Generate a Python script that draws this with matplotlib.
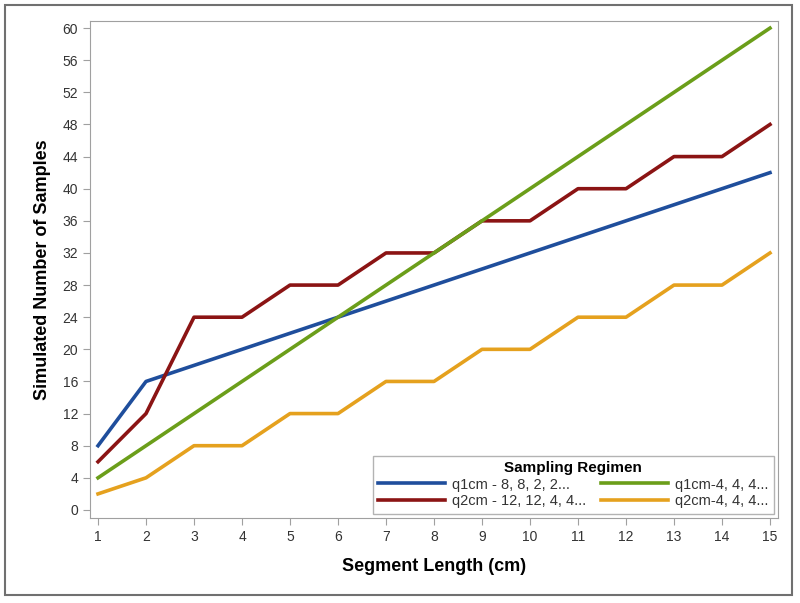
import matplotlib
matplotlib.use("Agg")
import matplotlib.pyplot as plt
from matplotlib.patches import Rectangle

x = list(range(1, 16))
q1_8822 = [8, 16, 18, 20, 22, 24, 26, 28, 30, 32, 34, 36, 38, 40, 42]
q2_121244 = [6, 12, 24, 24, 28, 28, 32, 32, 36, 36, 40, 40, 44, 44, 48]
q1_444 = [4, 8, 12, 16, 20, 24, 28, 32, 36, 40, 44, 48, 52, 56, 60]
q2_444 = [2, 4, 8, 8, 12, 12, 16, 16, 20, 20, 24, 24, 28, 28, 32]
labels = ["q1cm - 8, 8, 2, 2...", "q2cm - 12, 12, 4, 4...", "q1cm-4, 4, 4...", "q2cm-4, 4, 4..."]
yticks = list(range(0, 61, 4))

plt.rcParams['font.family'] = ['Liberation Sans', 'DejaVu Sans']
fig = plt.figure(figsize=(8, 6.03), dpi=100)
fig.patches.append(Rectangle((5/800, 8/603), 787/800, 590/603, transform=fig.transFigure,
                             fill=False, edgecolor='#707070', lw=1.5))
ax = fig.add_axes([0.1125, 0.141, 0.86, 0.824])
lw = 2.6
ax.plot(x, q1_8822, color='#1f4e9c', lw=lw, label=labels[0])
ax.plot(x, q2_121244, color='#8b1414', lw=lw, label=labels[1])
ax.plot(x, q1_444, color='#6b9e1a', lw=lw, label=labels[2])
ax.plot(x, q2_444, color='#e5a11e', lw=lw, label=labels[3])

ax.set_xlim(0.833, 15.167)
ax.set_ylim(-1.0, 60.87)
ax.set_xticks(x)
ax.set_yticks(yticks)
for s in ax.spines.values():
    s.set_color('#a0a0a0')
ax.tick_params(colors='#a0a0a0', labelcolor='#333333', labelsize=10, length=5, direction='out')
ax.set_xlabel('Segment Length (cm)', fontsize=13, fontweight='bold', labelpad=10)
ax.set_ylabel('Simulated Number of Samples', fontsize=13, fontweight='bold', labelpad=8)

leg = ax.legend(loc='lower right', ncol=2, title='Sampling Regimen', fontsize=10.5,
                title_fontproperties={'weight': 'bold', 'size': 11}, frameon=True,
                fancybox=False, edgecolor='#a0a0a0', handlelength=4.6, columnspacing=1.0,
                handletextpad=0.5, labelspacing=0.2, borderaxespad=0.3, borderpad=0.35)
for t in leg.get_texts():
    t.set_color('#333333')
fig.savefig('out.png', dpi=100)
